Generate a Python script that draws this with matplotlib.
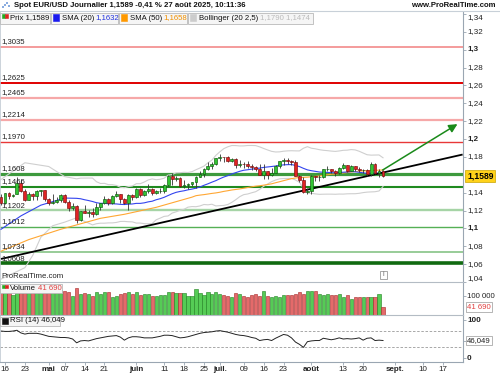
import numpy as np
import pandas as pd
import matplotlib
matplotlib.use('Agg')
import matplotlib.pyplot as plt
from matplotlib.patches import Rectangle
import matplotlib.transforms as mtransforms

plt.rcParams['font.family'] = ['Liberation Sans', 'DejaVu Sans']

# ---------------- data ----------------
start_date = '2025-04-15'
end_date = '2025-08-27'

opens = [1.1347, 1.1285, 1.1398, 1.1365, 1.1390, 1.1510, 1.1420, 1.1315, 1.1390, 1.1365,
         1.1420, 1.1425, 1.1330, 1.1290, 1.1298, 1.1315, 1.1370, 1.1300, 1.1225, 1.1250,
         1.1090, 1.1190, 1.1175, 1.1185, 1.1160, 1.1240, 1.1280, 1.1330, 1.1280, 1.1362,
         1.1385, 1.1330, 1.1290, 1.1370, 1.1347, 1.1445, 1.1370, 1.1420, 1.1445, 1.1395,
         1.1420, 1.1422, 1.1488, 1.1585, 1.1550, 1.1560, 1.1480, 1.1482, 1.1495, 1.1523,
         1.1580, 1.1610, 1.1665, 1.1700, 1.1720, 1.1787, 1.1800, 1.1798, 1.1755, 1.1780,
         1.1710, 1.1722, 1.1718, 1.1700, 1.1690, 1.1665, 1.1600, 1.1640, 1.1595, 1.1625,
         1.1695, 1.1755, 1.1770, 1.1750, 1.1740, 1.1590, 1.1545, 1.1405, 1.1415, 1.1585,
         1.1570, 1.1575, 1.1665, 1.1668, 1.1640, 1.1615, 1.1675, 1.1705, 1.1645, 1.1700,
         1.1660, 1.1650, 1.1652, 1.1610, 1.1720, 1.1620, 1.1640]
highs = [1.1380, 1.1400, 1.1410, 1.1385, 1.1573, 1.1550, 1.1445, 1.1405, 1.1395, 1.1425,
         1.1425, 1.1425, 1.1345, 1.1380, 1.1350, 1.1380, 1.1380, 1.1320, 1.1290, 1.1265,
         1.1195, 1.1265, 1.1210, 1.1225, 1.1285, 1.1285, 1.1365, 1.1345, 1.1375, 1.1420,
         1.1385, 1.1345, 1.1385, 1.1385, 1.1455, 1.1455, 1.1435, 1.1495, 1.1455, 1.1425,
         1.1450, 1.1495, 1.1600, 1.1615, 1.1590, 1.1580, 1.1540, 1.1505, 1.1525, 1.1585,
         1.1640, 1.1680, 1.1745, 1.1745, 1.1790, 1.1830, 1.1805, 1.1810, 1.1785, 1.1785,
         1.1770, 1.1745, 1.1750, 1.1720, 1.1700, 1.1720, 1.1720, 1.1645, 1.1675, 1.1705,
         1.1760, 1.1790, 1.1790, 1.1765, 1.1770, 1.1595, 1.1575, 1.1450, 1.1595, 1.1590,
         1.1595, 1.1670, 1.1700, 1.1670, 1.1655, 1.1685, 1.1730, 1.1715, 1.1715, 1.1700,
         1.1690, 1.1670, 1.1660, 1.1740, 1.1730, 1.1660, 1.1650]
lows = [1.1263, 1.1275, 1.1330, 1.1355, 1.1385, 1.1410, 1.1305, 1.1315, 1.1320, 1.1315,
        1.1365, 1.1310, 1.1265, 1.1270, 1.1280, 1.1300, 1.1290, 1.1200, 1.1210, 1.1065,
        1.1085, 1.1170, 1.1130, 1.1130, 1.1150, 1.1210, 1.1270, 1.1265, 1.1275, 1.1350,
        1.1285, 1.1275, 1.1210, 1.1315, 1.1345, 1.1355, 1.1360, 1.1400, 1.1375, 1.1385,
        1.1400, 1.1400, 1.1470, 1.1490, 1.1530, 1.1460, 1.1455, 1.1445, 1.1475, 1.1455,
        1.1575, 1.1580, 1.1655, 1.1660, 1.1705, 1.1760, 1.1745, 1.1740, 1.1745, 1.1680,
        1.1685, 1.1680, 1.1675, 1.1655, 1.1645, 1.1595, 1.1555, 1.1555, 1.1590, 1.1615,
        1.1680, 1.1715, 1.1720, 1.1715, 1.1585, 1.1520, 1.1400, 1.1390, 1.1390, 1.1535,
        1.1530, 1.1565, 1.1640, 1.1620, 1.1590, 1.1610, 1.1665, 1.1630, 1.1640, 1.1640,
        1.1635, 1.1615, 1.1590, 1.1585, 1.1610, 1.1570, 1.1575]
closes = [1.1285, 1.1398, 1.1365, 1.1375, 1.1510, 1.1420, 1.1315, 1.1390, 1.1365, 1.1420,
          1.1425, 1.1330, 1.1290, 1.1298, 1.1315, 1.1370, 1.1300, 1.1225, 1.1250, 1.1090,
          1.1190, 1.1175, 1.1185, 1.1160, 1.1240, 1.1280, 1.1330, 1.1280, 1.1362, 1.1385,
          1.1330, 1.1290, 1.1370, 1.1347, 1.1445, 1.1370, 1.1420, 1.1445, 1.1395, 1.1420,
          1.1422, 1.1488, 1.1585, 1.1550, 1.1560, 1.1480, 1.1482, 1.1495, 1.1523, 1.1580,
          1.1610, 1.1665, 1.1700, 1.1720, 1.1787, 1.1800, 1.1798, 1.1755, 1.1780, 1.1710,
          1.1722, 1.1718, 1.1700, 1.1690, 1.1665, 1.1600, 1.1640, 1.1595, 1.1625, 1.1695,
          1.1755, 1.1770, 1.1750, 1.1740, 1.1590, 1.1545, 1.1405, 1.1415, 1.1585, 1.1570,
          1.1575, 1.1665, 1.1668, 1.1640, 1.1615, 1.1675, 1.1705, 1.1645, 1.1700, 1.1660,
          1.1650, 1.1652, 1.1610, 1.1720, 1.1620, 1.1640, 1.1589]
volumes = [158, 150, 158, 105, 150, 145, 150, 135, 130, 125, 140, 130, 125, 135, 120, 130,
           124, 119, 98, 140, 110, 117, 110, 102, 119, 110, 119, 119, 93, 102,
           110, 114, 119, 110, 119, 105, 110, 108, 100, 100, 105, 105, 119, 122, 114,
           114, 114, 102, 102, 135, 114, 105, 119, 110, 119, 108, 105, 102, 93, 114,
           108, 100, 96, 105, 110, 102, 124, 102, 93, 102, 93, 105, 105, 105, 110,
           119, 110, 126, 126, 126, 110, 105, 110, 105, 105, 110, 93, 105, 86, 96,
           93, 93, 96, 93, 96, 110, 41.69]  # thousands
rsi_values = [71, 70, 70, 71, 73, 66, 63, 65, 65, 65, 63, 60, 57, 56, 55, 54, 54, 53, 50, 40,
              45, 46, 45, 48, 51, 53, 55, 57, 58, 59, 55, 47, 53, 56, 56, 55, 53, 53, 53, 55,
              57, 60, 60, 59, 56, 53, 54, 56, 59, 62, 65, 67, 68, 69, 71, 72, 70, 68, 65, 62,
              60, 59, 57, 54, 52, 46, 48, 49, 46, 52, 57, 62, 60, 53, 42, 36, 28, 43, 45, 46,
              46, 52, 50, 48, 50, 53, 50, 51, 50, 51, 53, 47, 52, 53, 46, 47, 46.049]

# indicator values read before the rolling windows fill (trading-day offset, value)
sma20_early_day = [0, 5, 10, 16]
sma20_early_val = [1.0990, 1.1140, 1.1260, 1.1340]
sma50_early_day = [0, 7, 15, 25, 31, 39, 48]
sma50_early_val = [1.0745, 1.0875, 1.0990, 1.1113, 1.1158, 1.1236, 1.1350]
bbup_early_day = [0, 6, 12, 16]
bbup_early_val = [1.1548, 1.1735, 1.1693, 1.1580]
bblo_early_day = [0, 6, 8, 10, 13, 16]
bblo_early_val = [1.0432, 1.0560, 1.0700, 1.0900, 1.1030, 1.1070]

level_prices = [1.3035, 1.2625, 1.2465, 1.2214, 1.1970, 1.1608, 1.1466, 1.1202, 1.1012, 1.0734, 1.0608]
level_labels = ['1,3035', '1,2625', '1,2465', '1,2214', '1,1970', '1,1608', '1,1466', '1,1202', '1,1012', '1,0734', '1,0608']
level_colors = ['#f28a8a', '#e00000', '#f6a8a8', '#f6a8a8', '#e83838',
                '#3d9a3d', '#1f8a1f', '#a6d4a6', '#55b055', '#98cc98', '#106a10']
level_widths = [1.2, 1.4, 1.6, 1.6, 1.0, 2.3, 1.5, 1.7, 1.0, 1.4, 2.6]

trend_days = [0, 116]
trend_vals = [1.0658, 1.1827]
arrow_days = [95.3, 115.3]
arrow_vals = [1.1637, 1.2184]

price_ticks = [1.04, 1.06, 1.08, 1.10, 1.12, 1.14, 1.18, 1.20, 1.22, 1.24, 1.26, 1.28, 1.30, 1.32, 1.34]
tick_dates = ['2025-04-16', '2025-04-23', '2025-05-01', '2025-05-07', '2025-05-14', '2025-05-21',
              '2025-06-02', '2025-06-11', '2025-06-18', '2025-06-25', '2025-07-01', '2025-07-09',
              '2025-07-16', '2025-07-23', '2025-08-01', '2025-08-13', '2025-08-20', '2025-09-01',
              '2025-09-10', '2025-09-17']
tick_labels = ['16', '23', 'mai', '07', '14', '21', 'juin', '11', '18', '25', 'juil.', '09',
               '16', '23', 'août', '13', '20', 'sept.', '10', '17']
month_labels = {'mai', 'juin', 'juil.', 'août', 'sept.'}

# ---------------- derived ----------------
dates = pd.bdate_range(start_date, end_date)
all_days = pd.bdate_range(start_date, '2025-09-30')
n = len(dates)
pos = np.arange(n)
o = np.array(opens); h = np.array(highs); l = np.array(lows); c = np.array(closes)
vol = np.array(volumes) * 1000
cs = pd.Series(c)
sma20 = cs.rolling(20).mean().values
sma50 = cs.rolling(50).mean().values
sd20 = cs.rolling(20).std(ddof=0).values
bbu = sma20 + 2.5 * sd20
bbl = sma20 - 2.5 * sd20

def join(eday, evals, series, start):
    return (np.concatenate([eday, pos[start:]]), np.concatenate([evals, series[start:]]))

# ---------------- figure ----------------
W, H = 500, 375
fig = plt.figure(figsize=(5, 3.75), dpi=100)
def fx(x): return x / W
def fy(y): return 1 - y / H

ax = fig.add_axes([0, fy(282), fx(463), (282 - 11) / H])
axv = fig.add_axes([0, fy(315), fx(463), (315 - 282) / H], sharex=ax)
axr = fig.add_axes([0, fy(362), fx(463), (362 - 315) / H], sharex=ax)

xmin, xmax = -0.25, 116.1
ax.set_xlim(xmin, xmax)
ax.set_ylim(1.041, 1.3434)
axv.set_ylim(0, 173700)
axr.set_ylim(-10.5, 113.2)

axis_gray = '#9aa6b2'
for a in (ax, axv, axr):
    for s in a.spines.values():
        s.set_visible(False)
    a.spines['right'].set_visible(True)
    a.spines['right'].set_color(axis_gray)
    a.spines['left'].set_visible(True)
    a.spines['left'].set_color('#c4ccd4')
    a.spines['left'].set_linewidth(1.2)
    a.yaxis.tick_right()
    a.tick_params(axis='y', length=2.5, width=0.6, color=axis_gray, labelright=False, labelleft=False)
    a.tick_params(axis='x', length=0, labelbottom=False)
for a in (axv, axr):
    a.spines['top'].set_visible(True)
    a.spines['top'].set_color('#b4bcc4')
    a.spines['top'].set_linewidth(0.8)
axr.spines['bottom'].set_visible(True)
axr.spines['bottom'].set_color(axis_gray)

# levels
for p, lab, col, lw in zip(level_prices, level_labels, level_colors, level_widths):
    ax.axhline(p, color=col, lw=lw, zorder=1)
    ax.text(fx(2) * W / 463 * (xmax - xmin) / W * 0 + xmin + 0.3, p, lab,
            transform=mtransforms.offset_copy(ax.transData, fig, y=1.8, units='dots'),
            fontsize=5.6, color='#222222', va='bottom', ha='left', zorder=6)

# bollinger
bx, by = join(bbup_early_day, bbup_early_val, bbu, 19)
ax.plot(bx, by, color='#cfcfcf', lw=0.8, zorder=2)
bx, by = join(bblo_early_day, bblo_early_val, bbl, 19)
ax.plot(bx, by, color='#cfcfcf', lw=0.8, zorder=2)
# SMAs
sx, sy = join(sma50_early_day, sma50_early_val, sma50, 49)
ax.plot(sx, sy, color='#ffa733', lw=0.8, zorder=3)
sx, sy = join(sma20_early_day, sma20_early_val, sma20, 19)
ax.plot(sx, sy, color='#3344ee', lw=0.8, zorder=3)

# trend line and arrow
ax.plot(trend_days, trend_vals, color='black', lw=1.3, zorder=4, solid_capstyle='butt')
ax.annotate('', xy=(arrow_days[1], arrow_vals[1]), xytext=(arrow_days[0], arrow_vals[0]),
            arrowprops=dict(arrowstyle='-|>,head_length=0.5,head_width=0.25', color='#1a8a1a', lw=1.1),
            zorder=4)

# candles
up = c >= o
ax.vlines(pos, l, h, color='#333333', lw=0.6, zorder=4)
body_b = np.minimum(o, c)
body_h = np.maximum(np.abs(c - o), 0.00025)
ax.bar(pos[up], body_h[up], bottom=body_b[up], width=0.72, color='#33c433',
       edgecolor='#0c5a0c', linewidth=0.45, zorder=5)
ax.bar(pos[~up], body_h[~up], bottom=body_b[~up], width=0.72, color='#e02424',
       edgecolor='#7a0c0c', linewidth=0.45, zorder=5)

# right price scale
ax.set_yticks(price_ticks)
rt = mtransforms.blended_transform_factory(fig.transFigure, ax.transData)
for t in price_ticks:
    s = ('%.2f' % t).rstrip('0').replace('.', ',')
    bold = s in ('1,1', '1,2', '1,3')
    va = 'center'
    if t == price_ticks[0]:
        va = 'bottom'
    if t == price_ticks[-1]:
        va = 'top'
    ax.text(fx(467), t, s, transform=rt, fontsize=5.8, va=va, ha='left',
            fontweight='bold' if bold else 'normal', color='#222222', clip_on=False)
ax.text(fx(467), c[-1], '1,1589', transform=rt, fontsize=6.2, va='center', ha='left',
        fontweight='bold', color='black', clip_on=False,
        bbox=dict(boxstyle='square,pad=0.18', fc='#ffd21a', ec='#c9a400', lw=0.5))

# volume
vcol = np.where(up, '#55cc55', '#e46a6a')
vedge = np.where(up, '#1f7f1f', '#a52525')
axv.bar(pos, vol, width=0.8, color=vcol, edgecolor=vedge, linewidth=0.4, zorder=2)
axv.set_yticks([100000])
rv = mtransforms.blended_transform_factory(fig.transFigure, axv.transData)
axv.text(fx(467), 100000, '100 000', transform=rv, fontsize=5.6, va='center', ha='left',
         color='#222222', clip_on=False)
axv.text(fx(467), vol[-1], '41 690', transform=rv, fontsize=5.6, va='center', ha='left',
         color='#e04040', clip_on=False,
         bbox=dict(boxstyle='square,pad=0.15', fc='white', ec='#999999', lw=0.5))

# RSI
axr.axhline(70, color='#9a9a9a', lw=0.6, dashes=(3, 2))
axr.axhline(30, color='#9a9a9a', lw=0.6, dashes=(3, 2))
axr.plot(pos, rsi_values, color='#222222', lw=0.7)
axr.set_yticks([0, 46.049, 100])
rr = mtransforms.blended_transform_factory(fig.transFigure, axr.transData)
axr.text(fx(467), 100, '100', transform=rr, fontsize=5.8, va='center', ha='left',
         fontweight='bold', color='#222222', clip_on=False)
axr.text(fx(467), 0, '0', transform=rr, fontsize=5.8, va='center', ha='left',
         fontweight='bold', color='#222222', clip_on=False)
axr.text(fx(467), rsi_values[-1], '46,049', transform=rr, fontsize=5.6, va='center', ha='left',
         color='#222222', clip_on=False,
         bbox=dict(boxstyle='square,pad=0.15', fc='white', ec='#999999', lw=0.5))

# date axis
tick_pos = [all_days.get_loc(pd.Timestamp(d)) for d in tick_dates]
axr.set_xticks(tick_pos)
axr.tick_params(axis='x', length=2.5, width=0.6, color=axis_gray, direction='out')
dt = mtransforms.blended_transform_factory(axr.transData, fig.transFigure)
for tp, tl in zip(tick_pos, tick_labels):
    axr.text(tp, fy(369.5), tl, transform=dt, fontsize=5.8, ha='center', va='center',
             fontweight='bold' if tl in month_labels else 'normal', color='#222222', clip_on=False)

# ---------------- header & legends ----------------
def box(x0, y0, x1, y1, fc='#f5f5f5', ec='#b9b9b9'):
    fig.add_artist(Rectangle((fx(x0), fy(y1)), fx(x1 - x0), (y1 - y0) / H,
                             transform=fig.transFigure, fc=fc, ec=ec, lw=0.6, zorder=5))

def sq(x0, y0, size, col, ec=None):
    fig.add_artist(Rectangle((fx(x0), fy(y0 + size)), fx(size), size / H,
                             transform=fig.transFigure, fc=col, ec=ec or col, lw=0.4, zorder=6))

# title bar
fig.add_artist(Rectangle((0, fy(11)), 1, 11 / H, transform=fig.transFigure,
                         fc='#ffffff', ec='none', zorder=4))
fig.add_artist(plt.Line2D([0, 1], [fy(11), fy(11)], transform=fig.transFigure,
                          color='#c8d0d8', lw=0.8, zorder=5))
for i, hh in enumerate([3, 5, 7, 4]):
    sq(2 + i * 2, 9 - hh, 1.2, '#4a7fd0')
fig.text(fx(14), fy(5.5), 'Spot EUR/USD Journalier 1,1589 -0,41 % 27 août 2025, 10:11:36',
         fontsize=5.6, fontweight='bold', color='#111111', va='center', ha='left', zorder=7)
fig.text(fx(496), fy(5.5), 'www.ProRealTime.com', fontsize=5.6, fontweight='bold',
         color='#111111', va='center', ha='right', zorder=7)

# indicator legend row
ly = 18
box(0, 12.5, 50, 23.5)
sq(1.5, 14.5, 3, '#22aa22'); sq(4.5, 14.5, 3, '#dd2222')
fig.text(fx(10), fy(ly), 'Prix 1,1589', fontsize=5.6, va='center', ha='left', color='#111111', zorder=7)
box(51, 12.5, 118, 23.5)
sq(53, 14.5, 6, '#1a1aee')
fig.text(fx(62), fy(ly), 'SMA (20)', fontsize=5.6, va='center', ha='left', color='#111111', zorder=7)
fig.text(fx(95), fy(ly), '1,1632', fontsize=5.6, va='center', ha='left', color='#2233dd', zorder=7)
box(119, 12.5, 187, 23.5)
sq(121, 14.5, 6, '#ff9900')
fig.text(fx(130), fy(ly), 'SMA (50)', fontsize=5.6, va='center', ha='left', color='#111111', zorder=7)
fig.text(fx(163), fy(ly), '1,1658', fontsize=5.6, va='center', ha='left', color='#f09000', zorder=7)
box(188, 12.5, 313, 23.5)
sq(190, 14.5, 6, '#cccccc')
fig.text(fx(199), fy(ly), 'Bollinger (20 2,5)', fontsize=5.6, va='center', ha='left', color='#111111', zorder=7)
fig.text(fx(260), fy(ly), '1,1790 1,1474', fontsize=5.6, va='center', ha='left', color='#bbbbbb', zorder=7)

# sub-panel legends
fig.text(fx(1), fy(277), 'ProRealTime.com', fontsize=5.6, va='center', ha='left', color='#222222', zorder=7)
box(0, 283.5, 62, 292.5)
sq(1.5, 285, 3, '#22aa22'); sq(4.5, 285, 3, '#dd2222')
fig.text(fx(10), fy(288), 'Volume', fontsize=5.6, va='center', ha='left', color='#111111', zorder=7)
fig.text(fx(38), fy(288), '41 690', fontsize=5.6, va='center', ha='left', color='#e04040', zorder=7)
box(0, 316.5, 60, 325.5)
sq(1.5, 318, 6, '#111111')
fig.text(fx(10), fy(321), 'RSI (14) 46,049', fontsize=5.6, va='center', ha='left', color='#111111', zorder=7)
box(380, 270.5, 387, 278.5, fc='#ffffff', ec='#999999')
fig.text(fx(383.5), fy(274.5), 'i', fontsize=5, va='center', ha='center', color='#666666', zorder=7)

fig.savefig('out.png', dpi=100)
